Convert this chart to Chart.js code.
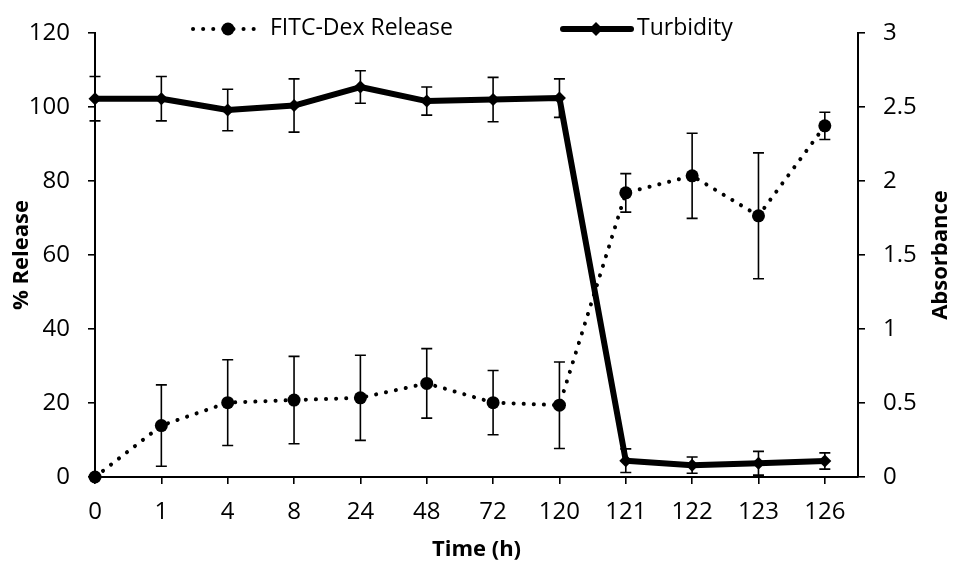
<!DOCTYPE html>
<html>
<head>
<meta charset="utf-8">
<title>FITC-Dex release and turbidity</title>
<script src="https://cdn.jsdelivr.net/npm/chart.js@4.4.1/dist/chart.umd.min.js"></script>
<style>
  html, body { margin: 0; padding: 0; background: #fff; }
  #wrap { position: relative; width: 953px; height: 565px; }
</style>
</head>
<body>
<div id="wrap"><canvas id="release-chart"></canvas></div>
<script>
// sampling times (h) and the two measured series with their standard deviations
const timeLabels = ['0', '1', '4', '8', '24', '48', '72', '120', '121', '122', '123', '126'];
const releaseValues = [0, 13.9, 20.1, 20.8, 21.4, 25.3, 20.1, 19.4, 76.8, 81.4, 70.6, 94.9];
const releaseErrors = [0, 11, 11.6, 11.8, 11.5, 9.4, 8.7, 11.7, 5.2, 11.5, 17, 3.7];
const turbidityValues = [2.556, 2.556, 2.48, 2.51, 2.635, 2.54, 2.55, 2.56, 0.11, 0.08, 0.093, 0.108];
const turbidityErrors = [0.15, 0.15, 0.14, 0.18, 0.11, 0.095, 0.15, 0.13, 0.08, 0.055, 0.08, 0.055];

const FONT = "'Open Sans', 'Noto Sans', sans-serif";
const DOTS = [0.1, 10];

function toPoints(values) {
    return values.map((v, i) => ({ x: i, y: v }));
}

// vertical error bars with caps, drawn from each dataset's `errors` list
const errorBars = {
    id: 'errorBars',
    afterDatasetsDraw(chart) {
        const ctx = chart.ctx;
        const xScale = chart.scales.x;
        ctx.save();
        ctx.strokeStyle = '#000';
        ctx.lineWidth = 1.6;
        chart.data.datasets.forEach(ds => {
            const yScale = chart.scales[ds.yAxisID];
            ds.data.forEach((pt, i) => {
                const err = ds.errors[i];
                if (!err) return;
                const px = xScale.getPixelForValue(pt.x);
                const top = yScale.getPixelForValue(pt.y + err);
                const bottom = yScale.getPixelForValue(Math.max(pt.y - err, yScale.min));
                ctx.beginPath();
                ctx.moveTo(px, top);
                ctx.lineTo(px, bottom);
                ctx.moveTo(px - 5.5, top);
                ctx.lineTo(px + 5.5, top);
                ctx.moveTo(px - 5.5, bottom);
                ctx.lineTo(px + 5.5, bottom);
                ctx.stroke();
            });
        });
        ctx.restore();
    }
};

// legend row across the top and the three axis titles
const decorations = {
    id: 'decorations',
    afterDraw(chart) {
        const ctx = chart.ctx;
        const area = chart.chartArea;
        const [release, turbidity] = chart.data.datasets;
        ctx.save();
        ctx.fillStyle = '#000';
        ctx.strokeStyle = '#000';

        // FITC-Dex sample: dotted line with a round marker
        ctx.lineCap = 'round';
        ctx.lineWidth = 4;
        ctx.setLineDash(DOTS);
        ctx.beginPath();
        ctx.moveTo(193, 29);
        ctx.lineTo(259, 29);
        ctx.stroke();
        ctx.setLineDash([]);
        ctx.beginPath();
        ctx.arc(228, 29, 6.5, 0, Math.PI * 2);
        ctx.fill();

        // Turbidity sample: heavy line with a diamond marker
        ctx.lineWidth = 6;
        ctx.beginPath();
        ctx.moveTo(563, 29);
        ctx.lineTo(631, 29);
        ctx.stroke();
        ctx.beginPath();
        ctx.moveTo(596, 22);
        ctx.lineTo(603, 29);
        ctx.lineTo(596, 36);
        ctx.lineTo(589, 29);
        ctx.closePath();
        ctx.fill();

        ctx.font = '23px ' + FONT;
        ctx.textBaseline = 'middle';
        ctx.textAlign = 'left';
        ctx.fillText(release.label, 270, 28);
        ctx.fillText(turbidity.label, 637, 28);

        // axis titles
        const midY = (area.top + area.bottom) / 2;
        ctx.font = 'bold 22px ' + FONT;
        ctx.textAlign = 'center';
        ctx.fillText('Time (h)', (area.left + area.right) / 2, 550);

        ctx.save();
        ctx.translate(22, midY);
        ctx.rotate(-Math.PI / 2);
        ctx.fillText('% Release', 0, 0);
        ctx.restore();

        ctx.save();
        ctx.translate(941, midY);
        ctx.rotate(-Math.PI / 2);
        ctx.fillText('Absorbance', 0, 0);
        ctx.restore();

        ctx.restore();
    }
};

const axisGrid = {
    display: true,
    drawOnChartArea: false,
    drawTicks: true,
    tickLength: 7,
    color: '#000',
    lineWidth: 1.6
};
const axisBorder = { display: true, color: '#000', width: 2 };
const tickFont = { family: FONT, size: 24 };

new Chart(document.getElementById('release-chart'), {
    type: 'line',
    data: {
        datasets: [
            {
                label: 'FITC-Dex Release',
                data: toPoints(releaseValues),
                errors: releaseErrors,
                yAxisID: 'y',
                clip: false,
                borderColor: '#000',
                backgroundColor: '#000',
                borderWidth: 4,
                borderDash: DOTS,
                borderCapStyle: 'round',
                pointStyle: 'circle',
                pointRadius: 6.5,
                pointBorderWidth: 0,
                tension: 0
            },
            {
                label: 'Turbidity',
                data: toPoints(turbidityValues),
                errors: turbidityErrors,
                yAxisID: 'y1',
                clip: false,
                borderColor: '#000',
                backgroundColor: '#000',
                borderWidth: 6,
                borderJoinStyle: 'round',
                pointStyle: 'rectRot',
                pointRadius: 6.5,
                pointBorderWidth: 0,
                tension: 0
            }
        ]
    },
    options: {
        responsive: true,
        maintainAspectRatio: false,
        animation: false,
        layout: { padding: { top: 33, left: 0, right: 0, bottom: 0 } },
        plugins: {
            legend: { display: false },
            tooltip: { enabled: false }
        },
        scales: {
            x: {
                type: 'linear',
                min: 0,
                max: 11.5,
                grid: axisGrid,
                border: axisBorder,
                afterBuildTicks: scale => {
                    scale.ticks = scale.ticks.filter(t => Number.isInteger(t.value));
                },
                afterFit: scale => { scale.height = 88; },
                ticks: {
                    stepSize: 1,
                    includeBounds: false,
                    autoSkip: false,
                    maxRotation: 0,
                    padding: 14,
                    color: '#000',
                    font: tickFont,
                    callback: v => timeLabels[v] ?? ''
                }
            },
            y: {
                position: 'left',
                min: 0,
                max: 120,
                grid: axisGrid,
                border: axisBorder,
                afterFit: scale => { scale.width = 95; },
                ticks: {
                    stepSize: 20,
                    padding: 18,
                    color: '#000',
                    font: tickFont
                }
            },
            y1: {
                position: 'right',
                min: 0,
                max: 3,
                grid: axisGrid,
                border: axisBorder,
                afterFit: scale => { scale.width = 95; },
                ticks: {
                    stepSize: 0.5,
                    padding: 18,
                    color: '#000',
                    font: tickFont,
                    callback: v => String(v)
                }
            }
        }
    },
    plugins: [errorBars, decorations]
});
</script>
</body>
</html>
